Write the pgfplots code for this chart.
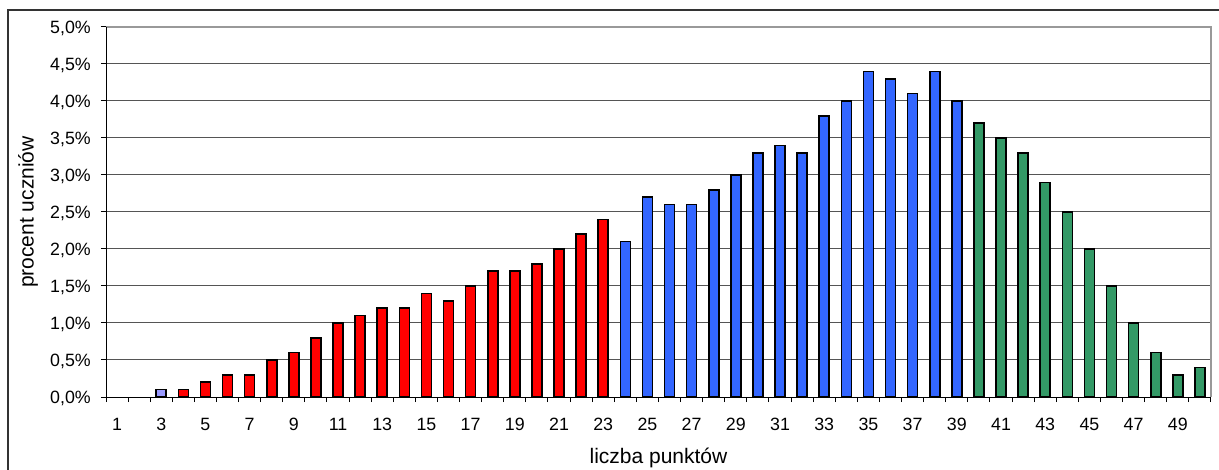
\documentclass[border=0pt]{standalone}
\usepackage{fontspec}
\setmainfont{Liberation Sans}
\usepackage{pgfplots}
\pgfplotsset{compat=1.18}
\definecolor{barred}{HTML}{FF0000}
\definecolor{barblue}{HTML}{3366FF}
\definecolor{barlilac}{HTML}{9999FF}
\definecolor{bargreen}{HTML}{339966}
\definecolor{gridgray}{HTML}{555555}
\definecolor{framegray}{HTML}{999999}
\begin{document}
\begin{tikzpicture}
\useasboundingbox (0,0) rectangle (1219bp,470bp);
% outer chart frame
\draw[line width=1.3bp, color=black!80] (8bp,-20bp) rectangle (1240bp,460bp);
\begin{axis}[
  at={(106bp,73bp)}, anchor=south west,
  width=1105bp, height=370bp, scale only axis,
  xmin=0.5, xmax=50.5, ymin=0, ymax=5,
  clip=false,
  axis line style={draw=none},
  tick pos=left,
  tick align=outside,
  major tick length=5bp,
  tick style={black, line width=1bp},
  xtick={0.5,1.5,...,50.5},
  xticklabels={},
  extra x ticks={1,3,...,49},
  extra x tick labels={1,3,5,7,9,11,13,15,17,19,21,23,25,27,29,31,33,35,37,39,41,43,45,47,49},
  extra x tick style={grid=none, tick style={draw=none}},
  xticklabel style={anchor=base, yshift=-28bp, inner sep=0pt},
  ytick={0,0.5,...,5},
  yticklabels={{0,0\%},{0,5\%},{1,0\%},{1,5\%},{2,0\%},{2,5\%},{3,0\%},{3,5\%},{4,0\%},{4,5\%},{5,0\%}},
  yticklabel style={anchor=base east, inner sep=0pt, xshift=-10bp, yshift=-6.4bp},
  ymajorgrids,
  grid style={gridgray, line width=1bp},
  tick label style={font=\fontsize{17.8bp}{20bp}\selectfont},
  /pgf/number format/assume math mode=true,
  xlabel={liczba punktów},
  ylabel={procent uczniów},
  label style={font=\fontsize{21bp}{24bp}\selectfont},
  xlabel style={at={(axis description cs:0.5,0)}, anchor=base, yshift=-66bp, inner sep=0pt},
  ylabel style={at={(axis description cs:-0.0706,0.5)}, anchor=center, inner sep=0pt},
  ybar, bar width=10bp, bar shift=0pt,
]
\addplot[draw=none, fill=none] coordinates {(1,0) (2,0)};
\addplot[fill=barlilac, draw=black, line width=1.6bp] coordinates {(3,0.1)};
\addplot[fill=barred, draw=black, line width=1.6bp] coordinates {
  (4,0.1) (5,0.2) (6,0.3) (7,0.3) (8,0.5) (9,0.6) (10,0.8) (11,1.0) (12,1.1)
  (13,1.2) (14,1.2) (15,1.4) (16,1.3) (17,1.5) (18,1.7) (19,1.7) (20,1.8)
  (21,2.0) (22,2.2) (23,2.4)};
\addplot[fill=barblue, draw=black, line width=1.6bp] coordinates {
  (24,2.1) (25,2.7) (26,2.6) (27,2.6) (28,2.8) (29,3.0) (30,3.3) (31,3.4)
  (32,3.3) (33,3.8) (34,4.0) (35,4.4) (36,4.3) (37,4.1) (38,4.4) (39,4.0)};
\addplot[fill=bargreen, draw=black, line width=1.6bp] coordinates {
  (40,3.7) (41,3.5) (42,3.3) (43,2.9) (44,2.5) (45,2.0) (46,1.5) (47,1.0)
  (48,0.6) (49,0.3) (50,0.4)};
\draw[framegray, line width=2bp] (rel axis cs:0,1) -- (rel axis cs:1,1) -- (rel axis cs:1,0);
\draw[black, line width=1bp] (rel axis cs:0,1) -- (rel axis cs:0,0) -- (rel axis cs:1,0);
\end{axis}
\end{tikzpicture}
\end{document}
